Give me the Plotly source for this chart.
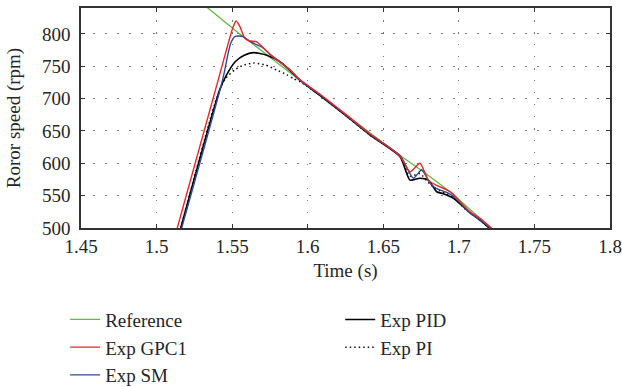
import plotly.graph_objects as go

# ---- data ----
ref_t = [1.5334, 1.555, 1.595, 1.6412, 1.6611, 1.6765, 1.6942, 1.714, 1.7215]
ref_y = [841, 800, 728, 646, 612, 587, 556, 515, 500]

gpc_t = [1.5137, 1.5408, 1.5505, 1.5526, 1.5550, 1.5585, 1.5620, 1.5660, 1.5700, 1.5750,
         1.5880, 1.5950, 1.6080, 1.6250, 1.6410, 1.6611, 1.6677, 1.6743, 1.6798, 1.6853,
         1.6920, 1.6955, 1.7074, 1.7140, 1.7215]
gpc_y = [500, 729, 810, 820, 812, 793, 789, 788, 780, 768,
         745, 729, 707, 676, 646, 611, 587, 600, 574, 566,
         559, 554, 525, 515, 500]

sm_t = [1.5166, 1.5437, 1.5490, 1.5520, 1.5570, 1.5620, 1.5700, 1.5750, 1.5880, 1.5950,
        1.6080, 1.6250, 1.6410, 1.6611, 1.6699, 1.6754, 1.6810, 1.6853, 1.6920, 1.6964,
        1.7074, 1.7140, 1.7208]
sm_y = [500, 729, 785, 796, 796, 788, 779, 769, 745, 728,
        706, 675, 645, 612, 577, 590, 569, 561, 555, 549,
        523, 513, 500]

pid_t = [1.5160, 1.5420, 1.5464, 1.5520, 1.5580, 1.5640, 1.5729, 1.5817, 1.5880, 1.5950,
         1.6080, 1.6250, 1.6410, 1.6611, 1.6677, 1.6743, 1.6798, 1.6853, 1.6897, 1.6964,
         1.7052, 1.7140, 1.7200]
pid_y = [500, 715, 737, 757, 767, 771, 767, 757, 744, 728,
         705, 674, 644, 610, 574, 577, 574, 556, 553, 546,
         528, 512, 500]

pi_t = [1.5160, 1.5400, 1.5453, 1.5520, 1.5580, 1.5640, 1.5720, 1.5795, 1.5860, 1.5905,
        1.5950, 1.6080, 1.6250, 1.6410, 1.6611, 1.6677, 1.6743, 1.6798, 1.6853, 1.6920,
        1.6964, 1.7052, 1.7140, 1.7200]
pi_y = [500, 703, 730, 745, 752, 755, 752, 744, 737, 731,
        726, 705, 674, 644, 611, 580, 584, 570, 560, 553,
        547, 527, 512, 500]

x_ticks = [1.45, 1.5, 1.55, 1.6, 1.65, 1.7, 1.75, 1.8]
x_tick_text = ["1.45", "1.5", "1.55", "1.6", "1.65", "1.7", "1.75", "1.8"]
y_ticks = [500, 550, 600, 650, 700, 750, 800]

FONT = "Liberation Serif"
FS = 19
TXT = "#262626"

fig = go.Figure()
fig.add_trace(go.Scatter(x=ref_t, y=ref_y, mode="lines", name="Reference",
                         line=dict(color="#5dba47", width=1.3),
                         legend="legend", legendrank=1, legendgroup="g1"))
fig.add_trace(go.Scatter(x=pi_t, y=pi_y, mode="lines", name="Exp PI",
                         line=dict(color="#111111", width=1.5, dash="1.5px,3px",
                                   shape="spline", smoothing=0.6),
                         legend="legend2", legendrank=2, legendgroup="g5"))
fig.add_trace(go.Scatter(x=pid_t, y=pid_y, mode="lines", name="Exp PID",
                         line=dict(color="#000000", width=1.6, shape="spline", smoothing=0.6),
                         legend="legend2", legendrank=1, legendgroup="g4"))
fig.add_trace(go.Scatter(x=sm_t, y=sm_y, mode="lines", name="Exp SM",
                         line=dict(color="#2d4b9b", width=1.4, shape="spline", smoothing=0.6),
                         legend="legend", legendrank=3, legendgroup="g3"))
fig.add_trace(go.Scatter(x=gpc_t, y=gpc_y, mode="lines", name="Exp GPC1",
                         line=dict(color="#e8262a", width=1.4, shape="spline", smoothing=0.6),
                         legend="legend", legendrank=2, legendgroup="g2"))

axis_common = dict(
    showline=True, linecolor="#333333", linewidth=1.5, mirror="allticks",
    ticks="inside", ticklen=4, tickcolor="#333333", tickwidth=1,
    showgrid=True, gridcolor="#777777", gridwidth=1, griddash="1.5px,10.5px",
    zeroline=False, automargin=False,
    tickfont=dict(family=FONT, size=FS, color=TXT),
)

legend_common = dict(xanchor="left", yanchor="top", bgcolor="rgba(0,0,0,0)",
                     font=dict(family=FONT, size=FS, color=TXT),
                     traceorder="normal", tracegroupgap=5)

fig.update_layout(
    width=622, height=387,
    margin=dict(l=81, r=12, t=8, b=159, autoexpand=False),
    paper_bgcolor="white", plot_bgcolor="white",
    font=dict(family=FONT, size=FS, color=TXT),
    showlegend=True,
    xaxis=dict(range=[1.45, 1.8], tickvals=x_ticks, ticktext=x_tick_text,
               title=dict(text="Time (s)", font=dict(family=FONT, size=FS, color=TXT), standoff=8),
               ticklabelstandoff=0, **axis_common),
    yaxis=dict(range=[500, 840], tickvals=y_ticks,
               title=dict(text="Roror speed (rpm)", font=dict(family=FONT, size=FS, color=TXT),
                          standoff=16),
               ticklabelstandoff=5, **axis_common),
    legend=dict(x=-0.03, y=-0.33, **legend_common),
    legend2=dict(x=0.49, y=-0.33, **legend_common),
)

fig.write_html("out.html")
